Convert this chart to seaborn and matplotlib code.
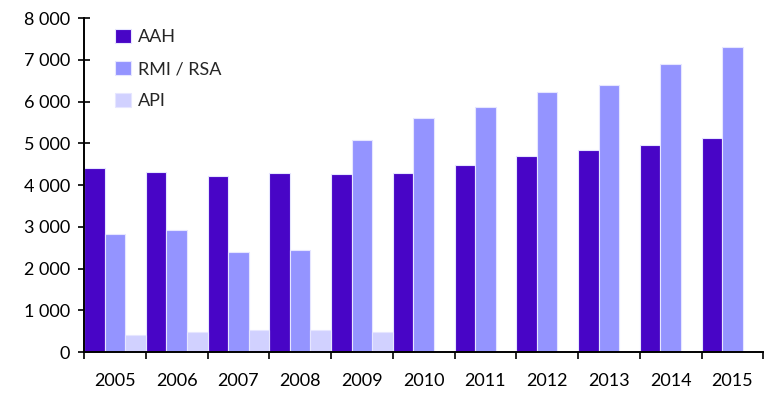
import matplotlib
matplotlib.use("Agg")
import matplotlib.pyplot as plt
import matplotlib.ticker as mticker
import seaborn as sns
import pandas as pd
import numpy as np

years = ["2005", "2006", "2007", "2008", "2009", "2010", "2011", "2012", "2013", "2014", "2015"]
aah = [4400, 4310, 4210, 4300, 4260, 4300, 4490, 4690, 4830, 4970, 5120]
rmi_rsa = [2830, 2920, 2400, 2440, 5080, 5600, 5880, 6220, 6400, 6890, 7310]
api = [400, 490, 530, 530, 490]
series_names = ["AAH", "RMI / RSA", "API"]
colors = ["#4805C6", "#9494FF", "#D1D1FF"]

rows = []
for i, y in enumerate(years):
    rows.append((y, "AAH", aah[i]))
    rows.append((y, "RMI / RSA", rmi_rsa[i]))
    if i < len(api):
        rows.append((y, "API", api[i]))
df = pd.DataFrame(rows, columns=["year", "series", "value"])

sns.set_style("white")
plt.rcParams["font.family"] = ["Lato", "DejaVu Sans"]

fig = plt.figure(figsize=(7.71, 3.93), dpi=100)
ax = fig.add_axes([0.109, 0.104, 0.881, 0.850])

sns.barplot(data=df, x="year", y="value", hue="series", order=years,
            hue_order=series_names, palette=colors, saturation=1,
            width=1.0, dodge=True, errorbar=None, ax=ax,
            edgecolor="#E6E6FF", linewidth=0.8)

ax.set_xlim(-0.5, len(years) - 0.5)
ax.set_ylim(0, 8000)
ax.yaxis.set_major_locator(mticker.MultipleLocator(1000))
ax.yaxis.set_major_formatter(mticker.FuncFormatter(lambda v, p: f"{int(v):,}".replace(",", " ")))
ax.set_xlabel("")
ax.set_ylabel("")

# x ticks at category boundaries, labels centered without tick marks
ax.set_xticks(np.arange(len(years)))
ax.set_xticklabels(years)
ax.set_xticks(np.arange(-0.5, len(years)), minor=True)
ax.tick_params(axis="x", which="major", length=0, pad=15, labelsize=13, colors="black")
ax.tick_params(axis="x", which="minor", length=5, width=1.2, direction="out", color="black", bottom=True)
ax.tick_params(axis="y", which="major", length=8, width=1.2, direction="inout", labelsize=13, pad=6, left=True, colors="black")

for side in ["top", "right"]:
    ax.spines[side].set_visible(False)
for side in ["left", "bottom"]:
    ax.spines[side].set_color("black")
    ax.spines[side].set_linewidth(1.4)

leg = ax.legend(loc="upper left", bbox_to_anchor=(0.03, 1.0), frameon=False,
                fontsize=13, handlelength=0.85, handleheight=0.85, handletextpad=0.4,
                labelspacing=0.85, borderaxespad=0.2)

fig.savefig("out.png", dpi=100)
